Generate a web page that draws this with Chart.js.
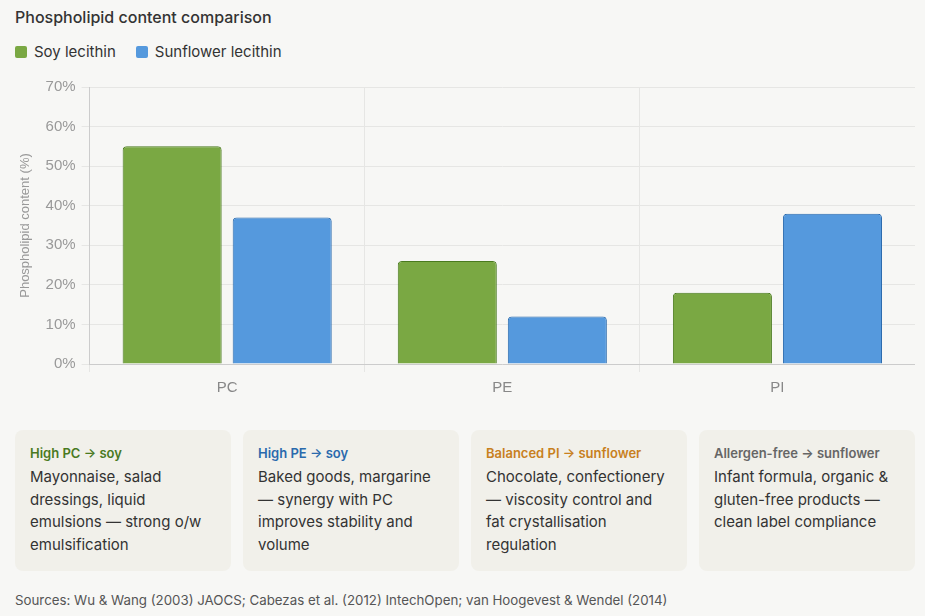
<!DOCTYPE html>
<html>
<head>
<meta charset="utf-8">
<script src="https://cdn.jsdelivr.net/npm/chart.js@4.4.0/dist/chart.umd.min.js"></script>
<style>
  body { margin: 0; background: #f7f7f5; font-family: Inter, "Noto Sans", sans-serif; color: #333; }
  .wrap { position: relative; width: 925px; height: 616px; }
  h1 { position: absolute; left: 15px; top: 7px; margin: 0; font-size: 16px; font-weight: 500; color: #333; }
  .legend { position: absolute; left: 15px; top: 42px; font-size: 15px; color: #333; display: flex; gap: 20px; }
  .legend span { display: flex; align-items: center; }
  .legend i { display: inline-block; width: 12px; height: 12px; border-radius: 2px; margin-right: 7px; }
  .chart { position: absolute; left: 14px; top: 72px; width: 901px; height: 332px; }
  .cards { position: absolute; left: 15px; top: 430px; display: flex; gap: 12px; }
  .card { width: 216px; height: 141px; box-sizing: border-box; background: #f1f0ea; border-radius: 8px; padding: 15px 22px 15px 15px; }
  .card b { display: block; font-size: 13px; font-weight: 600; margin-bottom: 5px; }
  .card p { margin: 0; font-size: 15px; line-height: 22.5px; color: #333; }
  .src { position: absolute; left: 15px; top: 592px; font-size: 13.3px; color: #555; }
</style>
</head>
<body>
<div class="wrap">
  <h1>Phospholipid content comparison</h1>
  <div class="legend">
    <span><i style="background:#7aa843"></i>Soy lecithin</span>
    <span><i style="background:#5599dd"></i>Sunflower lecithin</span>
  </div>
  <div class="chart"><canvas id="c"></canvas></div>
  <div class="cards">
    <div class="card"><b style="color:#4a7a1f">High PC → soy</b><p>Mayonnaise, salad dressings, liquid emulsions — strong o/w emulsification</p></div>
    <div class="card"><b style="color:#2a6aad">High PE → soy</b><p>Baked goods, margarine — synergy with PC improves stability and volume</p></div>
    <div class="card"><b style="color:#c8801e">Balanced PI → sunflower</b><p>Chocolate, confectionery — viscosity control and fat crystallisation regulation</p></div>
    <div class="card"><b style="color:#666">Allergen-free → sunflower</b><p>Infant formula, organic &amp; gluten-free products — clean label compliance</p></div>
  </div>
  <div class="src">Sources: Wu &amp; Wang (2003) JAOCS; Cabezas et al. (2012) IntechOpen; van Hoogevest &amp; Wendel (2014)</div>
</div>
<script>
const categories = ['PC', 'PE', 'PI'];
const soyValues = [55, 26, 18];
const sunflowerValues = [37, 12, 38];
const yTicks = [0, 10, 20, 30, 40, 50, 60, 70];

new Chart(document.getElementById('c'), {
  type: 'bar',
  data: {
    labels: categories,
    datasets: [
      { label: 'Soy lecithin', data: soyValues, backgroundColor: '#7aa843', borderColor: '#4a7a1f', borderWidth: 1, borderRadius: 4, borderSkipped: 'bottom' },
      { label: 'Sunflower lecithin', data: sunflowerValues, backgroundColor: '#5599dd', borderColor: '#2a6aad', borderWidth: 1, borderRadius: 4, borderSkipped: 'bottom' }
    ]
  },
  options: {
    responsive: true,
    maintainAspectRatio: false,
    animation: false,
    plugins: { legend: { display: false }, tooltip: { enabled: false } },
    scales: {
      x: {
        grid: { color: '#e6e6e4' },
        border: { color: '#cccccc' },
        ticks: { color: '#888', font: { size: 15 }, padding: 7 }
      },
      y: {
        min: 0, max: 70,
        afterBuildTicks: axis => { axis.ticks = yTicks.map(v => ({ value: v })); },
        grid: { color: '#e6e6e4' },
        border: { color: '#cccccc' },
        ticks: { color: '#999', font: { size: 15 }, padding: 6, callback: v => v + '%' },
        title: { display: true, text: 'Phospholipid content (%)', color: '#999', font: { size: 13 }, padding: { top: 4, bottom: 6 } }
      }
    }
  }
});
</script>
</body>
</html>
